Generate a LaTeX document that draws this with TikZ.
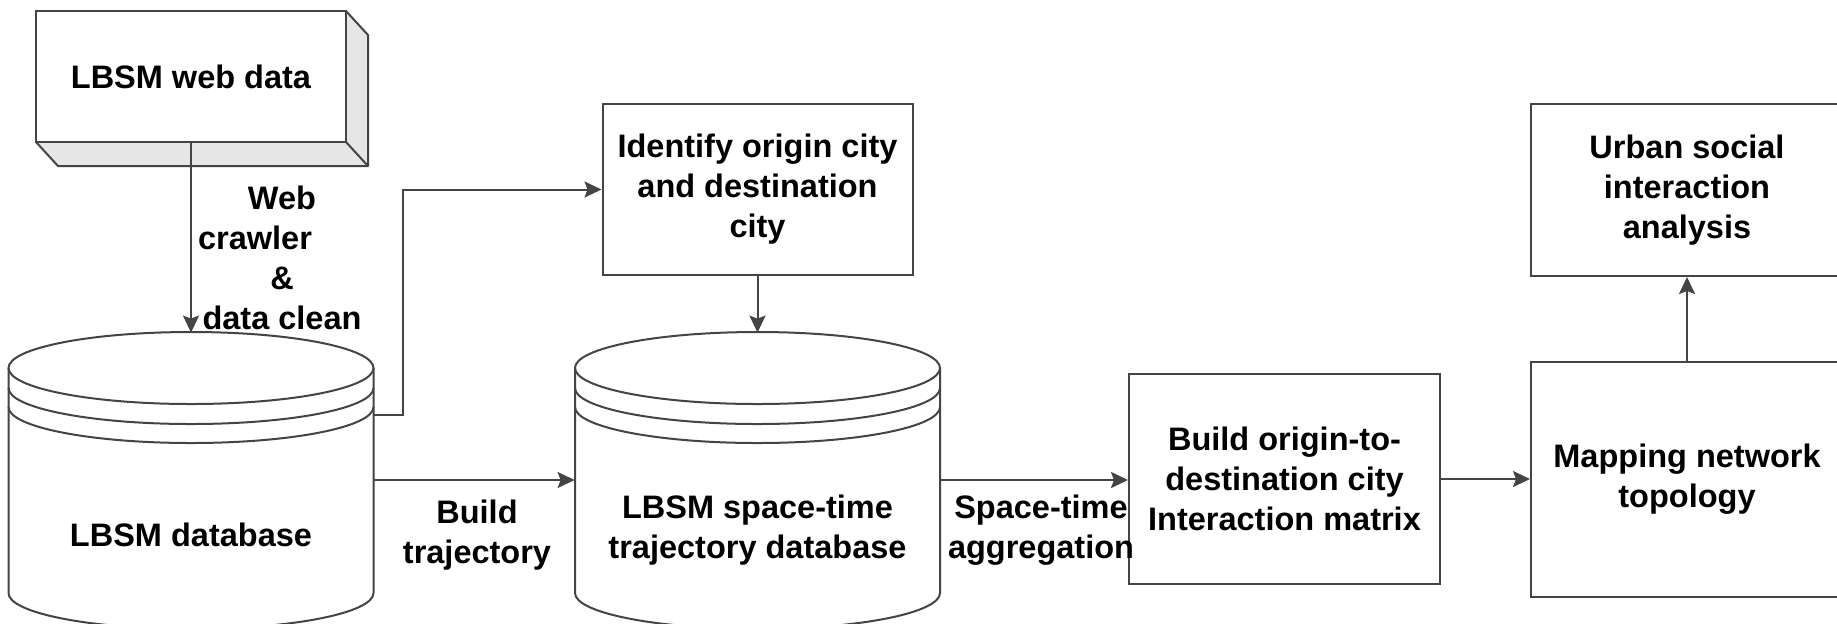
\documentclass[tikz,border=0pt]{standalone}
\usepackage{fontspec}
\setmainfont{Liberation Sans}
\usetikzlibrary{arrows.meta,calc}
\definecolor{lc}{HTML}{444444}
\definecolor{facegray}{HTML}{E6E6E6}
\tikzset{
  ln/.style={draw=lc, line width=1pt},
  arr/.style={ln, -{Stealth[length=8.5pt,width=8pt,inset=1.5pt]}},
  txt/.style={font=\fontsize{16.25pt}{20pt}\selectfont\bfseries, align=center, inner sep=0pt},
  box/.style={txt, ln, rectangle, fill=white},
  dbshape/.style={rectangle, draw=none, inner sep=0pt, minimum width=182.5pt, minimum height=147pt},
}
\newcommand\dbdraw[1]{%
  \begin{scope}[shift={(#1.center)}]
    \draw[ln, fill=white] (-182.5,-112) -- (-182.5,113)
      arc[start angle=180, end angle=360, x radius=91.25pt, y radius=18pt] -- (182.5,-112);
    \draw[ln] (0,-112) ellipse[x radius=91.25pt, y radius=18pt];
    \draw[ln] (-182.5,-92) arc[start angle=180, end angle=360, x radius=91.25pt, y radius=18pt];
    \draw[ln] (-182.5,-73) arc[start angle=180, end angle=360, x radius=91.25pt, y radius=18pt];
  \end{scope}}
\begin{document}
\begin{tikzpicture}[x=0.5pt, y=-0.5pt]
  \useasboundingbox (0,0) rectangle (1837,623);
  \clip (0,0) rectangle (1837,623);
  \fill[white] (0,0) rectangle (1837,623);

  % cube: LBSM web data
  \fill[facegray] (346,11) -- (368,35) -- (368,166) -- (346,142) -- cycle;
  \fill[facegray] (36,142) -- (346,142) -- (368,166) -- (58,166) -- cycle;
  \draw[ln, line join=round] (346,11) -- (368,35) -- (368,166) -- (58,166) -- (36,142);
  \draw[ln] (346,142) -- (368,166);
  \node[box, minimum width=155pt, minimum height=65.5pt] (web) at (191,76.5) {LBSM web data};

  % databases
  \node[dbshape] (db1) at (191,480) {};
  \dbdraw{db1}
  \node[txt] (db1t) at (191,535) {LBSM database};

  \node[dbshape] (db2) at (757.5,480) {};
  \dbdraw{db2}
  \node[txt] (db2t) at (757.5,530) {LBSM space-time\\trajectory database};

  % boxes
  \node[box, minimum width=155pt, minimum height=85.5pt] (idf) at (757.5,189.5)
    {Identify origin city\\and destination\\city};
  \node[box, minimum width=155.5pt, minimum height=105pt] (mat) at (1284.5,479)
    {Build origin-to-\\destination city\\Interaction matrix};
  \node[box, minimum width=156pt, minimum height=117.5pt] (map) at (1687,479.5)
    {Mapping network\\topology};
  \node[box, minimum width=156pt, minimum height=86pt] (urb) at (1687,190)
    {Urban social\\interaction\\analysis};

  % connectors
  \draw[arr] (web.south) -- (db1.north);
  \draw[arr] ($(db1.east)+(0,-65)$) -- ++(29,0) |- (idf.west);
  \draw[arr] (idf.south) -- (db2.north);
  \draw[arr] (db1.east) -- (db2.west);
  \draw[arr] (db2.east) -- (db2.east -| mat.west);
  \draw[arr] (mat.east) -- (mat.east -| map.west);
  \draw[arr] (map.north) -- (urb.south);

  % connector labels
  \node[txt] (lbl1) at (282,257.5) {Web\\crawler\rule{27pt}{0pt}\\\&\\data clean};
  \node[txt] (lbl2) at (477,535) {Build\\trajectory};
  \node[txt] (lbl3) at (1041,530) {Space-time\\aggregation};
\end{tikzpicture}
\end{document}
